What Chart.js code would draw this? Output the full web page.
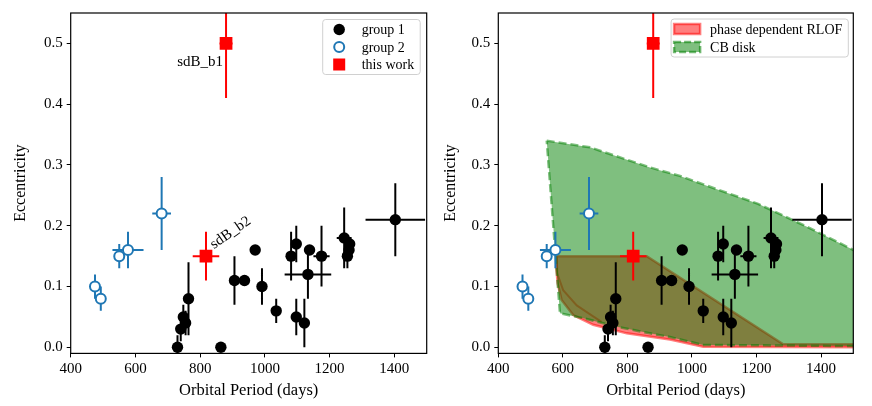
<!DOCTYPE html>
<html><head><meta charset="utf-8">
<script src="https://cdn.jsdelivr.net/npm/chart.js@4.4.1/dist/chart.umd.min.js"></script>
<style>
html,body{margin:0;padding:0;background:#fff;}
#wrap{position:relative;width:872px;height:406px;overflow:hidden;}
canvas{position:absolute;top:0;}
</style></head><body>
<div id="wrap">
<canvas id="c1" width="436" height="406" style="left:0"></canvas>
<canvas id="c2" width="436" height="406" style="left:436px"></canvas>
</div>
<script>
// ---------------- data ----------------
const group1Period    = [730, 864, 748, 740, 755, 764, 906, 937, 970, 991, 1035, 1081, 1097, 1097, 1122, 1138, 1133, 1175, 1245, 1262, 1260, 1255, 1403];
const group1Ecc       = [0.00, 0.00, 0.05, 0.03, 0.04, 0.08, 0.11, 0.11, 0.16, 0.10, 0.06, 0.15, 0.17, 0.05, 0.04, 0.16, 0.12, 0.15, 0.18, 0.17, 0.16, 0.15, 0.21];
const group1PeriodErr = [0, 0, 0, 0, 0, 0, 0, 0, 0, 0, 0, 0, 0, 0, 0, 0, 72, 25, 23, 0, 0, 0, 92];
const group1EccErr    = [0.02, 0, 0.02, 0.02, 0.02, 0.06, 0.04, 0, 0, 0.03, 0.02, 0.04, 0.03, 0.03, 0.04, 0, 0.04, 0.05, 0.05, 0, 0, 0.02, 0.06];

const group2Period    = [475, 493, 550, 577, 681];
const group2Ecc       = [0.10, 0.08, 0.15, 0.16, 0.22];
const group2PeriodErr = [0, 0, 0, 48, 29];
const group2EccErr    = [0.02, 0.02, 0.02, 0.03, 0.06];

const thisPeriod    = [880, 818];
const thisEcc       = [0.50, 0.15];
const thisPeriodErr = [20, 41];
const thisEccErr    = [0.09, 0.04];
const thisNames     = ['sdB_b1', 'sdB_b2'];

// CB disk region outline (period, eccentricity)
const cbDiskPeriod = [550, 684, 870, 963, 1046, 1205, 1350, 1520, 1520, 1035, 932, 870, 767, 663, 591, 550];
const cbDiskEcc    = [0.340, 0.329, 0.296, 0.282, 0.266, 0.236, 0.200, 0.155, 0.002, 0.004, 0.017, 0.023, 0.034, 0.048, 0.056, 0.340];
// phase dependent RLOF region outline
const rlofPeriod = [581, 860, 1283, 1520, 1520, 1035, 932, 798, 694, 632, 596, 584, 580, 581];
const rlofEcc    = [0.150, 0.150, 0.005, 0.005, 0.000, 0.001, 0.013, 0.023, 0.037, 0.053, 0.078, 0.105, 0.130, 0.150];
// inner boundary curve of the RLOF region
const rlofInnerPeriod = [581, 583, 601, 643, 694, 720];
const rlofInnerEcc    = [0.150, 0.121, 0.094, 0.069, 0.051, 0.042];

const xTicks = [400, 600, 800, 1000, 1200, 1400];
const yTicks = [0.0, 0.1, 0.2, 0.3, 0.4, 0.5];
const xRange = [400, 1500];
const yRange = [-0.01, 0.55];
const xTitle = 'Orbital Period (days)';
const yTitle = 'Eccentricity';
const legend1 = ['group 1', 'group 2', 'this work'];
const legend2 = ['phase dependent RLOF', 'CB disk'];

// ---------------- helpers ----------------
const FONT = '"Liberation Serif", "Times New Roman", serif';
function pts(xs, ys) { return xs.map((x, i) => ({x: x, y: ys[i]})); }
function errSegments(xs, ys, ex, ey) {
  const d = [];
  for (let i = 0; i < xs.length; i++) {
    if (ex[i] > 0) { d.push({x: xs[i] - ex[i], y: ys[i]}, {x: xs[i] + ex[i], y: ys[i]}, {x: null, y: null}); }
    if (ey[i] > 0) { d.push({x: xs[i], y: ys[i] - ey[i]}, {x: xs[i], y: ys[i] + ey[i]}, {x: null, y: null}); }
  }
  return d;
}
const BLUE = '#1f77b4';
function pointDatasets() {
  return [
    {label: 'g1err', data: errSegments(group1Period, group1Ecc, group1PeriodErr, group1EccErr), showLine: true, pointRadius: 0, borderColor: '#000', borderWidth: 2, spanGaps: false, order: 7},
    {label: 'group 1', data: pts(group1Period, group1Ecc), pointRadius: 5.7, pointStyle: 'circle', backgroundColor: '#000', borderColor: '#000', borderWidth: 0, order: 6},
    {label: 'g2err', data: errSegments(group2Period, group2Ecc, group2PeriodErr, group2EccErr), showLine: true, pointRadius: 0, borderColor: BLUE, borderWidth: 2, spanGaps: false, order: 5},
    {label: 'group 2', data: pts(group2Period, group2Ecc), pointRadius: 5, pointStyle: 'circle', backgroundColor: '#fff', borderColor: BLUE, borderWidth: 2, order: 4},
    {label: 'thiserr', data: errSegments(thisPeriod, thisEcc, thisPeriodErr, thisEccErr), showLine: true, pointRadius: 0, borderColor: '#ff0000', borderWidth: 2, spanGaps: false, order: 3},
    {label: 'this work', data: pts(thisPeriod, thisEcc), pointRadius: 9, pointStyle: 'rect', backgroundColor: '#ff0000', borderColor: '#ff0000', borderWidth: 0, order: 2}
  ];
}
function scalesCfg(yWidth) {
  const tickFont = {family: FONT, size: 15};
  return {
    x: {
      type: 'linear', min: xRange[0], max: xRange[1],
      afterBuildTicks: s => { s.ticks = xTicks.map(v => ({value: v})); },
      afterFit: s => { s.height = 52.6; },
      ticks: {color: '#000', font: tickFont, padding: 3, maxRotation: 0, callback: v => String(v)},
      grid: {display: true, drawOnChartArea: false, drawTicks: true, tickLength: 4, color: '#000', lineWidth: 1},
      border: {display: false},
      title: {display: true, text: xTitle, color: '#000', font: {family: FONT, size: 16.5}, padding: {top: 0, bottom: 5}}
    },
    y: {
      type: 'linear', min: yRange[0], max: yRange[1],
      afterBuildTicks: s => { s.ticks = yTicks.map(v => ({value: v})); },
      afterFit: s => { s.width = yWidth; },
      ticks: {color: '#000', font: tickFont, padding: 4, callback: v => Number(v).toFixed(1)},
      grid: {display: true, drawOnChartArea: false, drawTicks: true, tickLength: 4, color: '#000', lineWidth: 1},
      border: {display: false},
      title: {display: true, text: yTitle, color: '#000', font: {family: FONT, size: 16}, padding: {top: 4, bottom: 0}}
    }
  };
}
const framePlugin = {
  id: 'frame',
  afterDraw(chart) {
    const a = chart.chartArea, c = chart.ctx;
    c.save(); c.strokeStyle = '#000'; c.lineWidth = 1.2;
    c.strokeRect(a.left, a.top, a.right - a.left, a.bottom - a.top);
    c.restore();
  }
};
function roundRect(c, x, y, w, h, r) {
  c.beginPath(); c.moveTo(x + r, y); c.lineTo(x + w - r, y); c.quadraticCurveTo(x + w, y, x + w, y + r);
  c.lineTo(x + w, y + h - r); c.quadraticCurveTo(x + w, y + h, x + w - r, y + h);
  c.lineTo(x + r, y + h); c.quadraticCurveTo(x, y + h, x, y + h - r);
  c.lineTo(x, y + r); c.quadraticCurveTo(x, y, x + r, y); c.closePath();
}
function legendPlugin(labels, drawHandle, rowGap, margin) {
  return {
    id: 'customLegend',
    afterDraw(chart) {
      const a = chart.chartArea, c = chart.ctx;
      c.save();
      c.font = '14px ' + FONT;
      const tw = Math.max(...labels.map(t => c.measureText(t).width));
      const handleOff = 3, handleW = 27, textGap = 9;
      const w = handleOff + handleW + textGap + tw + 6;
      const h = 20 + rowGap * (labels.length - 1);
      const x0 = a.right - margin.right - w, y0 = a.top + margin.top;
      roundRect(c, x0, y0, w, h, 3);
      c.fillStyle = 'rgba(255,255,255,0.8)'; c.fill();
      c.strokeStyle = '#d0d0d0'; c.lineWidth = 1; c.stroke();
      labels.forEach((t, i) => {
        const cy = y0 + 10 + rowGap * i;
        drawHandle(c, i, x0 + handleOff, cy, handleW);
        c.fillStyle = '#000'; c.textAlign = 'left'; c.textBaseline = 'middle';
        c.font = '14px ' + FONT;
        c.fillText(t, x0 + handleOff + handleW + textGap, cy + 1);
      });
      c.restore();
    }
  };
}
function handle1(c, i, x, cy, w) {
  const cx = x + w / 2;
  if (i === 0) { c.beginPath(); c.arc(cx, cy, 5.7, 0, Math.PI * 2); c.fillStyle = '#000'; c.fill(); }
  else if (i === 1) { c.beginPath(); c.arc(cx, cy, 5, 0, Math.PI * 2); c.fillStyle = '#fff'; c.fill(); c.strokeStyle = BLUE; c.lineWidth = 2; c.stroke(); }
  else { c.fillStyle = '#ff0000'; c.fillRect(cx - 6, cy - 6, 12, 12); }
}
function handle2(c, i, x, cy, w) {
  c.beginPath(); c.rect(x, cy - 5, w - 1, 10);
  if (i === 0) {
    c.fillStyle = 'rgba(255,0,0,0.5)'; c.fill();
    c.strokeStyle = 'rgba(255,0,0,0.5)'; c.lineWidth = 2.5; c.stroke();
  } else {
    c.fillStyle = 'rgba(0,128,0,0.5)'; c.fill();
    c.setLineDash([7, 3]); c.strokeStyle = 'rgba(0,128,0,0.55)'; c.lineWidth = 2.5; c.stroke(); c.setLineDash([]);
  }
}
const annotationPlugin = {
  id: 'labels',
  afterDatasetsDraw(chart) {
    const xs = chart.scales.x, ys = chart.scales.y, c = chart.ctx;
    c.save(); c.fillStyle = '#000'; c.font = '15px ' + FONT;
    // sdB_b1 : below-left of the point
    let px = xs.getPixelForValue(thisPeriod[0]), py = ys.getPixelForValue(thisEcc[0]);
    c.textAlign = 'right'; c.textBaseline = 'alphabetic';
    c.fillText(thisNames[0], px - 3, py + 23);
    // sdB_b2 : rotated, upper-right of the point
    px = xs.getPixelForValue(thisPeriod[1]); py = ys.getPixelForValue(thisEcc[1]);
    c.translate(px + 8, py - 7); c.rotate(-35 * Math.PI / 180);
    c.textAlign = 'left'; c.fillText(thisNames[1], 0, 0);
    c.restore();
  }
};
const baseOptions = {
  responsive: false, animation: false, events: [],
  elements: {line: {tension: 0}},
  plugins: {legend: {display: false}, tooltip: {enabled: false}}
};
Chart.defaults.font.family = FONT;

// ---------------- left panel ----------------
new Chart(document.getElementById('c1'), {
  type: 'scatter',
  data: {datasets: pointDatasets()},
  options: Object.assign({}, baseOptions, {
    layout: {padding: {left: 7, right: 9.3, top: 11.8, bottom: 0}},
    scales: scalesCfg(63.7)
  }),
  plugins: [framePlugin, annotationPlugin, legendPlugin(legend1, handle1, 17.5, {right: 6.5, top: 6.5})]
});

// ---------------- right panel ----------------
const shapeDatasets = [
  {label: 'phase dependent RLOF', data: pts(rlofPeriod, rlofEcc), showLine: true, fill: 'shape', pointRadius: 0,
   backgroundColor: 'rgba(255,0,0,0.5)', borderColor: 'rgba(255,0,0,0.5)', borderWidth: 2.5, clip: 0, order: 12},
  {label: 'rlofInner', data: pts(rlofInnerPeriod, rlofInnerEcc), showLine: true, fill: false, pointRadius: 0,
   borderColor: 'rgba(255,0,0,0.5)', borderWidth: 2, clip: 0, order: 11},
  {label: 'CB disk', data: pts(cbDiskPeriod, cbDiskEcc), showLine: true, fill: 'shape', pointRadius: 0,
   backgroundColor: 'rgba(0,128,0,0.5)', borderColor: 'rgba(0,128,0,0.5)', borderWidth: 2.5, borderDash: [8, 4], clip: 0, order: 10}
];
new Chart(document.getElementById('c2'), {
  type: 'scatter',
  data: {datasets: shapeDatasets.concat(pointDatasets())},
  options: Object.assign({}, baseOptions, {
    layout: {padding: {left: 1, right: 18.7, top: 11.8, bottom: 0}},
    scales: scalesCfg(61.3)
  }),
  plugins: [framePlugin, legendPlugin(legend2, handle2, 18, {right: 5, top: 6})]
});
</script>
</body></html>
